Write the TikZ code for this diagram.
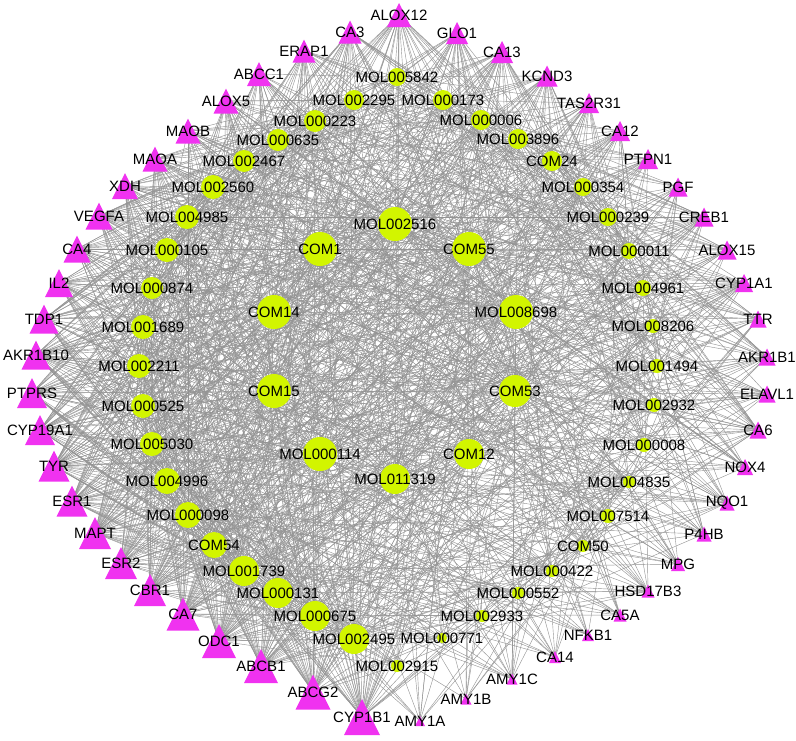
\documentclass[tikz,border=0pt]{standalone}
\usepackage{fontspec}
\setmainfont{Liberation Sans}
\definecolor{tricol}{RGB}{240,50,240}
\definecolor{circcol}{RGB}{210,245,0}
\definecolor{edgecol}{RGB}{148,148,148}
\def\tris{ALOX12/399/15/24,GLO1/457/33/22,CA13/502/52/22,KCND3/547/76/21,TAS2R31/589/103/20,CA12/620/131/20,PTPN1/648/159/20,PGF/678/187/19,CREB1/704/217/19,ALOX15/727/250/19,CYP1A1/744/283/18,TTR/758/319/17,AKR1B1/767/357/17,ELAVL1/767/394/17,CA6/758/430/17,NOX4/745/467/16,NQO1/727/503/15,P4HB/704/534/15,MPG/678/564/14,HSD17B3/648/591/13,CA5A/620/615/13,NFKB1/588/635/12,CA14/555/657/12,AMY1C/512/679/11,AMY1B/466/699/11,AMY1A/420/721/10,CYP1B1/362/717/36,ABCG2/313/692/35,ABCB1/261/666/34,ODC1/219/641/34,CA7/183/614/33,CBR1/150/590/32,ESR2/121/563/32,MAPT/95/533/32,ESR1/72/501/31,TYR/54/466/31,CYP19A1/40/430/30,PTPRS/32/393/30,AKR1B10/36/355/29,TDP1/44/319/29,IL2/59/283/28,CA4/77/249/27,VEGFA/99/216/27,XDH/125/186/26,MAOA/155/159/25,MAOB/188/131/25,ALOX5/226/101/25,ABCC1/259/74/24,ERAP1/304/51/23,CA3/350/32/23}
\def\circs{MOL005842/397/77/9,MOL002295/354/100/10,MOL000173/443/100/10,MOL000223/315/121/11,MOL000006/481/120/10,MOL000635/278/140/11,MOL003896/518/139/10,MOL002467/244/161/11,COM24/552/161/10,MOL002560/213/187/12,MOL000354/583/187/9,MOL004985/187/217/12,MOL000239/608/217/9,MOL000105/167/250/12,MOL000011/629/251/8,MOL000874/152/288/11,MOL004961/643/288/8,MOL001689/143/327/12,MOL008206/653/326/7,MOL002211/139/366/12,MOL001494/657/366/7,MOL000525/143/406/12,MOL002932/654/405/7,MOL005030/152/444/12,MOL000008/644/445/7,MOL004996/167/481/13,MOL004835/629/482/6,MOL000098/188/515/13,MOL007514/608/516/7,COM54/214/545/13,COM50/583/546/6,MOL001739/244/571/15,MOL000422/552/571/6,MOL000131/278/593/15,MOL000552/518/593/6,MOL000675/315/616/15,MOL002933/482/616/6,MOL002495/354/639/15,MOL000771/442/638/5,MOL002915/397/666/6,COM1/320/249/17,MOL002516/395/224/17,COM55/469/249/17,COM14/274/312/17,MOL008698/516/312/17,COM15/274/391/17,COM53/515/391/16,MOL000114/320/454/17,COM12/469/454/15,MOL011319/395/479/15}
\begin{document}
\begin{tikzpicture}[x=1pt,y=-1pt,
  edge/.style={draw=edgecol,line width=0.42pt},
  lab/.style={font=\fontsize{15}{18}\selectfont,inner sep=0pt,text=black},
  tri/.style={fill=tricol},
  circ/.style={fill=circcol}]
\useasboundingbox (0,0) rectangle (796,740);
\fill[white] (0,0) rectangle (796,740);
% node positions
\foreach \n/\x/\y/\w in \tris {\coordinate (\n) at (\x,\y);}
\foreach \n/\x/\y/\r in \circs {\coordinate (\n) at (\x,\y);}
% connectors (compound - target)
\pgfmathsetseed{7}
\foreach \t/\tx/\ty/\tw in \tris {
  \foreach \c/\cx/\cy/\cr in \circs {
    \pgfmathtruncatemacro\hit{rnd < 0.0019*(\tw-2)*(\cr+3)}
    \ifnum\hit=1 \draw[edge] (\t) -- (\c);\fi
  }
}
% shapes
\foreach \n/\x/\y/\r in \circs {\fill[circ] (\n) circle[radius=\r];}
\foreach \n/\x/\y/\w in \tris {
  \fill[tri] ([shift={(-\w/2,\w/2)}]\n) -- ([shift={(\w/2,\w/2)}]\n) -- ([shift={(0,-\w/2)}]\n) -- cycle;}
% labels
\foreach \n/\x/\y/\w in \tris {\node[lab] (\n-l) at (\n) {\n};}
\foreach \n/\x/\y/\r in \circs {\node[lab] (\n-l) at (\n) {\n};}
\end{tikzpicture}
\end{document}
